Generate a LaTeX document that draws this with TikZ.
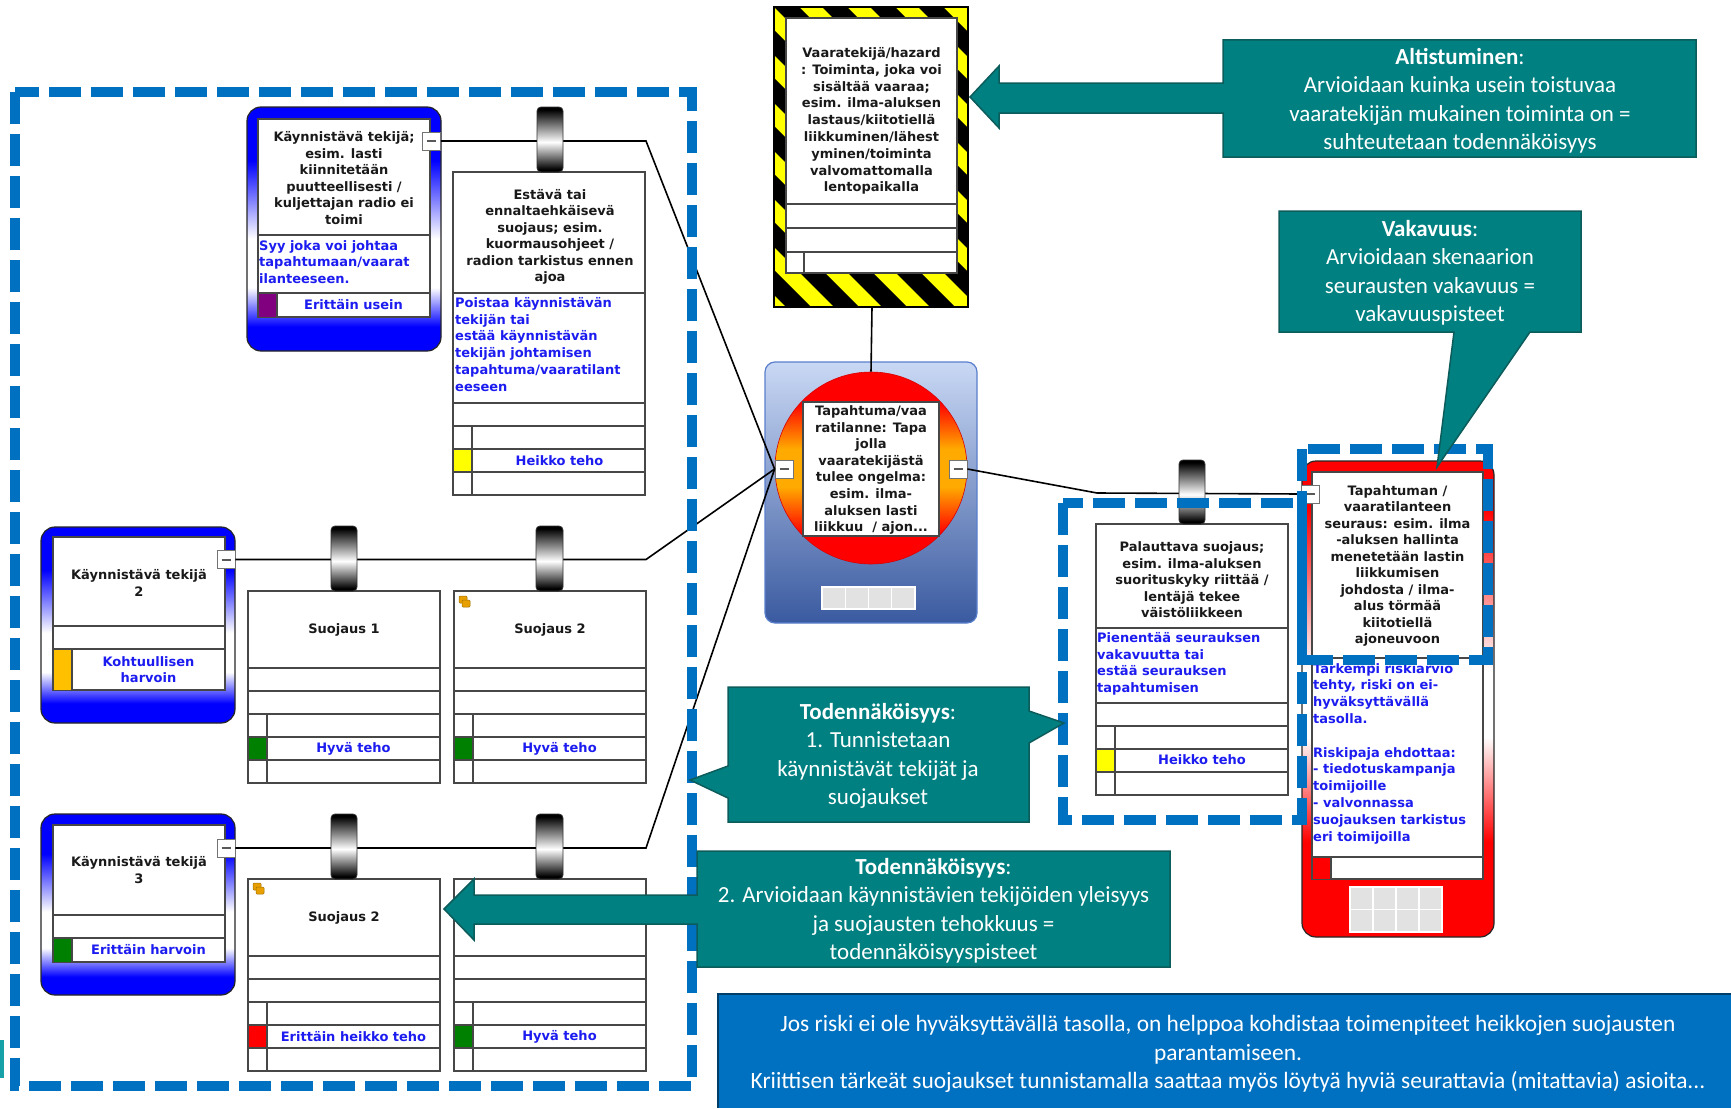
\documentclass[tikz,border=0pt]{standalone}
\usepackage{fontspec}
\setmainfont{DejaVu Sans}
\newfontfamily\calib{Carlito}

\definecolor{tealfill}{HTML}{008080}
\definecolor{tealedge}{HTML}{0D5C5C}
\definecolor{dashblue}{HTML}{0070C0}
\definecolor{txtblue}{RGB}{28,28,240}
\definecolor{thrblue}{HTML}{0000FF}
\definecolor{consred}{HTML}{FF0000}
\definecolor{discorange}{HTML}{FFAA00}
\definecolor{evtop}{HTML}{C9D8F4}
\definecolor{evbot}{HTML}{3A5AA0}
\definecolor{evedge}{HTML}{5A7FCC}
\definecolor{qpurple}{HTML}{800080}
\definecolor{qgold}{HTML}{FFC000}
\definecolor{qgreen}{HTML}{008000}
\definecolor{qyellow}{HTML}{FFFF00}
\definecolor{qred}{HTML}{FF0000}
\definecolor{hazyellow}{HTML}{FFFF00}
\definecolor{sqgrey}{HTML}{E2E2E2}
\definecolor{fragteal}{HTML}{16A0A8}
\definecolor{iconorange}{HTML}{E8A000}

\pgfdeclareverticalshading{threatfill}{100bp}{color(0bp)=(thrblue); color(30bp)=(thrblue); color(38bp)=(white); color(48bp)=(white); color(64bp)=(thrblue); color(100bp)=(thrblue)}
\pgfdeclareverticalshading{consfill}{100bp}{color(0bp)=(consred); color(35bp)=(consred); color(46bp)=(white); color(53bp)=(white); color(70bp)=(consred); color(100bp)=(consred)}
\pgfdeclareverticalshading{discfill}{100bp}{color(0bp)=(consred); color(33bp)=(consred); color(45bp)=(discorange); color(55bp)=(discorange); color(67bp)=(consred); color(100bp)=(consred)}
\pgfdeclareverticalshading{cylfill}{100bp}{color(0bp)=(black); color(27bp)=(black); color(48bp)=(white); color(73bp)=(black); color(100bp)=(black)}

\newcommand\bowfont{\fontsize{13}{16.5}\selectfont\bfseries}
\newcommand\blufont{\fontsize{13}{16.8}\selectfont\bfseries}
\newcommand\hazfont{\fontsize{13}{16.8}\selectfont\bfseries}
\newcommand\evfont{\fontsize{13}{16.6}\selectfont\bfseries}
\newcommand\calloutfont{\calib\fontsize{23}{28.5}\selectfont}
\newcommand\bannerfont{\calib\fontsize{23.4}{28.3}\selectfont}

% barrier box: x, top, title bottom, second row bottom, quality colour
\newcommand\barrierbox[5]{%
  \draw[cell] (#1,#2) rectangle ({#1+192},{#4+92});
  \fill[#5] ({#1+0.6},{#4+46}) rectangle ({#1+19},{#4+69});
  \foreach \yy in {#3,#4,#4+23,#4+46,#4+69}
    \draw[rowline] (#1,\yy) -- ({#1+192},\yy);
  \draw[rowline] ({#1+19},{#4+23}) -- ({#1+19},{#4+92});
}
% small stacked-squares marker
\newcommand\stackicon[2]{%
  \draw[iconorange!70!black, fill=iconorange, line width=0.5pt, rounded corners=1pt] (#1,#2) rectangle ++(8,7);
  \draw[iconorange!70!black, fill=iconorange, line width=0.5pt, rounded corners=1pt] ({#1+3},{#2+4}) rectangle ++(8,7);
}

\begin{document}
\begin{tikzpicture}[x=1pt,y=-1pt,
  cell/.style={draw=black!72, line width=1.2pt, fill=white},
  rowline/.style={draw=black!72, line width=1.2pt},
  frame/.style={draw=black!85, line width=1.2pt, rounded corners=14pt},
  ttl/.style={font=\bowfont, align=center, inner sep=0pt, text=black!90},
  blu/.style={font=\blufont, align=left, inner sep=0pt, text=txtblue, anchor=north west},
  qual/.style={font=\bowfont, align=center, inner sep=0pt, text=txtblue},
  minusbox/.style={draw=black!55, fill=white, minimum width=18pt, minimum height=18pt, inner sep=0pt, line width=0.8pt},
  conn/.style={draw=black, line width=1.6pt},
  cyl/.style={shading=cylfill, draw=black!80, line width=0.8pt, rounded corners=4pt},
  gsq/.style={fill=sqgrey, draw=white, line width=1.2pt},
  dashbox/.style={draw=dashblue, line width=10pt, dash pattern=on 32pt off 10pt, line cap=butt},
  callout/.style={fill=tealfill, draw=tealedge, line width=1.5pt},
  ctext/.style={font=\calloutfont, text=white, align=center, inner sep=0pt}
]
\useasboundingbox (0,0) rectangle (1731,1108);
\fill[white] (0,0) rectangle (1731,1108);

% ---------- threat 1 ----------
\shadedraw[frame, shading=threatfill] (247,107) rectangle (441,351);
\draw[cell] (258,119) rectangle (430,317);
\fill[qpurple] (258.6,293) rectangle (277,317);
\draw[rowline] (258,235) -- (430,235) (258,293) -- (430,293) (277,293) -- (277,317);
\node[ttl] (t1title) at (344,178) {Käynnistävä tekijä;\\esim. lasti\\kiinnitetään\\puutteellisesti /\\kuljettajan radio ei\\toimi};
\node[blu] (t1cause) at (259,240) {Syy joka voi johtaa\\tapahtumaan/vaarat\\ilanteeseen.};
\node[qual] (t1freq) at (353.5,305) {Erittäin usein};
\node[minusbox] (t1minus) at (431.5,141) {\color{black!65}\rule{9pt}{2pt}};

% ---------- threat 2 ----------
\shadedraw[frame, shading=threatfill] (41,527) rectangle (235,723);
\draw[cell] (53,537) rectangle (225,690);
\fill[qgold] (53.6,649) rectangle (72,690);
\draw[rowline] (53,626) -- (225,626) (53,649) -- (225,649) (72,649) -- (72,690);
\node[ttl] (t2title) at (139,583) {Käynnistävä tekijä\\2};
\node[qual] (t2freq) at (148.5,669.5) {Kohtuullisen\\harvoin};
\node[minusbox] (t2minus) at (226,559.5) {\color{black!65}\rule{9pt}{2pt}};

% ---------- threat 3 ----------
\shadedraw[frame, shading=threatfill] (41,814) rectangle (235,995);
\draw[cell] (53,825) rectangle (225,962);
\fill[qgreen] (53.6,938) rectangle (72,962);
\draw[rowline] (53,915) -- (225,915) (53,938) -- (225,938) (72,938) -- (72,962);
\node[ttl] (t3title) at (139,870) {Käynnistävä tekijä\\3};
\node[qual] (t3freq) at (148.5,950) {Erittäin harvoin};
\node[minusbox] (t3minus) at (226,848) {\color{black!65}\rule{9pt}{2pt}};

% ---------- barriers ----------
\barrierbox{453}{172}{293}{403}{qyellow}
\node[ttl] (b1title) at (550,237) {Estävä tai\\ennaltaehkäisevä\\suojaus; esim.\\kuormausohjeet /\\radion tarkistus ennen\\ajoa};
\node[blu] (b1text) at (455,297) {Poistaa käynnistävän\\tekijän tai\\estää käynnistävän\\tekijän johtamisen\\tapahtuma/vaaratilant\\eeseen};
\node[qual] (b1eff) at (559.5,460.5) {Heikko teho};

\barrierbox{248}{591}{668}{691}{qgreen}
\node[ttl] (b2title) at (344,630) {Suojaus 1};
\node[qual] (b2eff) at (353.5,748.5) {Hyvä teho};

\barrierbox{454}{591}{668}{691}{qgreen}
\stackicon{459}{596}
\node[ttl] (b3title) at (550,630) {Suojaus 2};
\node[qual] (b3eff) at (559.5,748.5) {Hyvä teho};

\barrierbox{248}{879}{956}{979}{qred}
\stackicon{253}{883}
\node[ttl] (b4title) at (344,918) {Suojaus 2};
\node[qual] (b4eff) at (353.5,1037) {Erittäin heikko teho};

\barrierbox{454}{879}{956}{979}{qgreen}
\node[ttl] (b5title) at (550,918) {Suojaus 3};
\node[qual] (b5eff) at (559.5,1037) {Hyvä teho};

\barrierbox{1096}{524}{628}{703}{qyellow}
\node[ttl] (b6title) at (1192,580) {Palauttava suojaus;\\esim. ilma-aluksen\\suorituskyky riittää /\\lentäjä tekee\\väistöliikkeen};
\node[blu] (b6text) at (1097,632) {Pienentää seurauksen\\vakavuutta tai\\estää seurauksen\\tapahtumisen};
\node[qual] (b6eff) at (1202,760) {Heikko teho};

% ---------- hazard ----------
\begin{scope}
  \clip (774,7) rectangle (968,307);
  \fill[hazyellow] (774,7) rectangle (968,307);
  \foreach \k in {0,...,12}
    \fill[black] ({438+48*\k},7) -- ++(25,0) -- ++(300,300) -- ++(-25,0) -- cycle;
\end{scope}
\draw[black, line width=1.2pt] (774,7) rectangle (968,307);
\draw[cell] (786,18) rectangle (957,273);
\draw[rowline] (786,204) -- (957,204) (786,228) -- (957,228) (786,252) -- (957,252) (804,252) -- (804,273);
\node[font=\hazfont, align=center, inner sep=0pt, text=black!90] (hztitle) at (871.5,121) {Vaaratekijä/hazard\\: Toiminta, joka voi\\sisältää vaaraa;\\esim. ilma-aluksen\\lastaus/kiitotiellä\\liikkuminen/lähest\\yminen/toiminta\\valvomattomalla\\lentopaikalla};
\coordinate (hzbot) at (872,307);

% ---------- top event ----------
\shadedraw[top color=evtop, bottom color=evbot, draw=evedge, line width=1.2pt, rounded corners=10pt] (765,362) rectangle (977,623);
\node[circle, shade, shading=discfill, draw=red!85!black, line width=0.6pt, minimum size=192pt, inner sep=0pt] (disc) at (871,468) {};
\draw[cell] (803,402) rectangle (939,536);
\node[font=\evfont, align=center, inner sep=0pt, text=black!90] (evtitle) at (871,470) {Tapahtuma/vaa\\ratilanne: Tapa\\jolla\\vaaratekijästä\\tulee ongelma:\\esim. ilma-\\aluksen lasti\\liikkuu\ \ / ajon...};
\node[minusbox] (evL) at (784,469) {\color{black!65}\rule{9pt}{2pt}};
\node[minusbox] (evR) at (958,469) {\color{black!65}\rule{9pt}{2pt}};
\foreach \i in {0,...,3}
  \draw[gsq] ({822+23.25*\i},587) rectangle ++(23.25,22);

% ---------- consequence ----------
\shadedraw[frame, shading=consfill] (1302,461) rectangle (1494,937);
\draw[cell] (1312,472) rectangle (1483,879);
\fill[qred] (1312.6,857) rectangle (1331,879);
\draw[rowline] (1312,658) -- (1483,658) (1312,857) -- (1483,857) (1331,857) -- (1331,879);
\node[ttl] (cstitle) at (1397.5,566) {Tapahtuman /\\vaaratilanteen\\seuraus: esim. ilma\\-aluksen hallinta\\menetetään lastin\\liikkumisen\\johdosta / ilma-\\alus törmää\\kiitotiellä\\ajoneuvoon};
\node[blu] (cstext) at (1313,663) {Tarkempi riskiarvio\\tehty, riski on ei-\\hyväksyttävällä\\tasolla.\\[16.8pt]Riskipaja ehdottaa:\\- tiedotuskampanja\\toimijoille\\- valvonnassa\\suojauksen tarkistus\\eri toimijoilla};
\node[minusbox] (csminus) at (1310,494) {\color{black!65}\rule{9pt}{2pt}};
\foreach \i in {0,...,3}
  \foreach \j in {0,1}
    \draw[gsq] ({1350+23*\i},{887+22.5*\j}) rectangle ++(23,22.5);

% ---------- connectors ----------
\coordinate (j1) at (646,141);
\coordinate (j2) at (646,559.5);
\coordinate (j3) at (646,848);
\coordinate (j4) at (1097,493);
\draw[conn] (t1minus.east) -- (j1) -- (evL.west);
\draw[conn] (t2minus.east) -- (j2) -- (evL.west);
\draw[conn] (t3minus.east) -- (j3) -- (evL.west);
\draw[conn] (evR.east) -- (j4) -- (csminus.west);
\draw[conn] (hzbot) -- (disc.north);

% barrier rings on the lines
\shadedraw[cyl] (537,107) rectangle (563,172);
\shadedraw[cyl] (331,526) rectangle (357,591);
\shadedraw[cyl] (536,526) rectangle (563,591);
\shadedraw[cyl] (331,814) rectangle (357,879);
\shadedraw[cyl] (536,814) rectangle (563,879);
\shadedraw[cyl] (1179,460) rectangle (1205,524);

% ---------- dashed groupings ----------
\draw[dashbox] (15,92) rectangle (692,1086);
\draw[dashbox] (1063,503) rectangle (1302,820);
\draw[dashbox] (1302,449) rectangle (1488,660);

% ---------- callouts ----------
\draw[callout] (1223,40) -- (1696,40) -- (1696,157) -- (1223,157) -- (1223,113) -- (999,113) -- (999,128) -- (970,97) -- (999,66) -- (999,83) -- (1223,83) -- cycle;
\node[ctext] (c1) at (1460,101) {\textbf{Altistuminen}:\\Arvioidaan kuinka usein toistuvaa\\vaaratekijän mukainen toiminta on =\\suhteutetaan todennäköisyys};

\draw[callout] (1279,211) -- (1581,211) -- (1581,332) -- (1530,332) -- (1437,467) -- (1454,332) -- (1279,332) -- cycle;
\node[ctext] (c2) at (1430,273) {\textbf{Vakavuus}:\\Arvioidaan skenaarion\\seurausten vakavuus =\\vakavuuspisteet};

\draw[callout] (728,687) -- (1029,687) -- (1029,711) -- (1064,723) -- (1029,743) -- (1029,822) -- (728,822) -- (728,798) -- (690,780) -- (728,766) -- cycle;
\node[ctext] (c3) at (878,756) {\textbf{Todennäköisyys}:\\1. Tunnistetaan\\käynnistävät tekijät ja\\suojaukset};

\draw[callout] (697,851) -- (1170,851) -- (1170,967) -- (697,967) -- (697,924) -- (474,924) -- (474,940) -- (444,909) -- (474,879) -- (474,895) -- (697,895) -- cycle;
\node[ctext] (c4) at (933.5,911) {\textbf{Todennäköisyys}:\\2. Arvioidaan käynnistävien tekijöiden yleisyys\\ja suojausten tehokkuus =\\todennäköisyyspisteet};

% ---------- bottom banner ----------
\fill[dashblue] (718,994) rectangle (1731,1108);
\draw[dashblue!55!black, line width=1.5pt] (718,1108) -- (718,994) -- (1731,994);
\node[font=\bannerfont, text=white, align=center, inner sep=0pt] (banner) at (1228,1054) {Jos riski ei ole hyväksyttävällä tasolla, on helppoa kohdistaa toimenpiteet heikkojen suojausten\\parantamiseen.\\Kriittisen tärkeät suojaukset tunnistamalla saattaa myös löytyä hyviä seurattavia (mitattavia) asioita...};

% clipped shape at the left edge
\fill[fragteal] (0,1040) rectangle (4,1078);
\end{tikzpicture}
\end{document}
